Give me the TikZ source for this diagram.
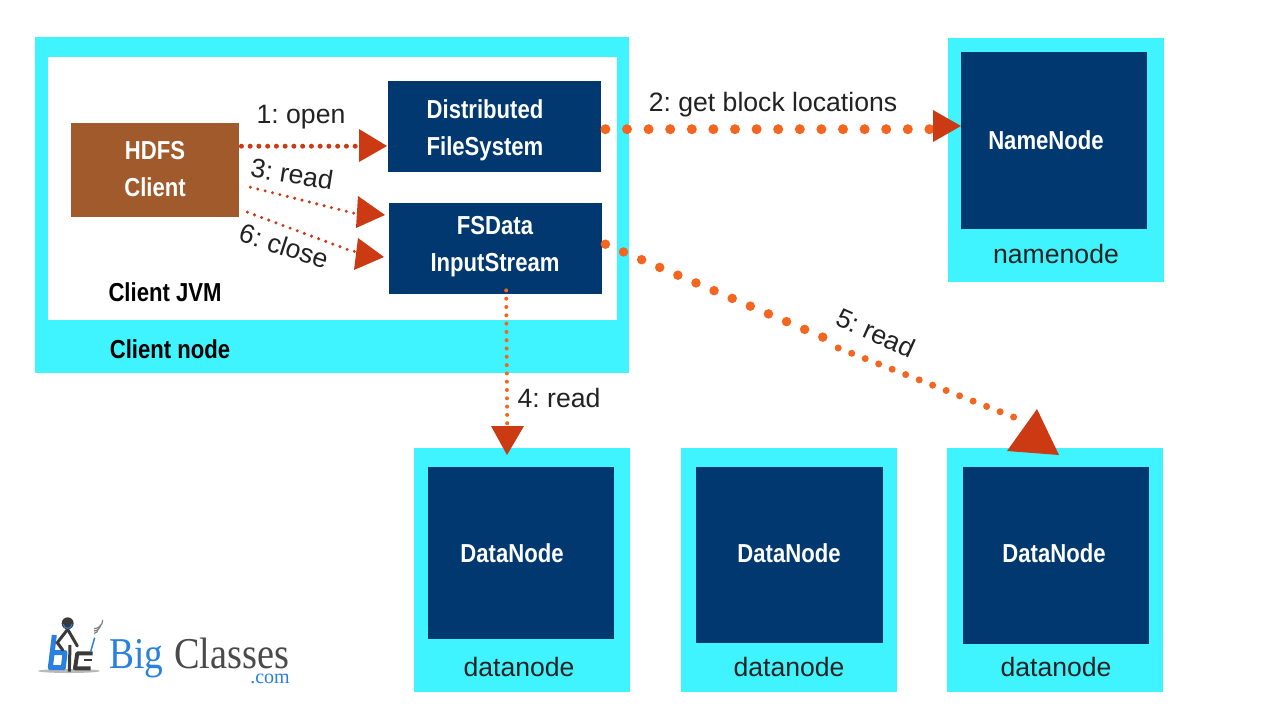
\documentclass[tikz,border=0pt]{standalone}
\usepackage{fontspec}
\setmainfont{Liberation Sans}
\newfontfamily\condbold[FakeStretch=0.85]{Liberation Sans Bold}
\newfontfamily\logofont{Liberation Serif}
\frenchspacing
\definecolor{cyanbg}{HTML}{40F4FF}
\definecolor{navy}{HTML}{00386F}
\definecolor{brownbox}{HTML}{A05A2C}
\definecolor{tipred}{HTML}{CB3A13}
\definecolor{dotorange}{HTML}{F4661F}
\definecolor{labelink}{HTML}{222222}
\definecolor{logoblue}{HTML}{2A80E0}
\definecolor{logodark}{HTML}{3A3A3A}
\definecolor{logogray}{HTML}{4A4A4A}
\tikzset{
  box/.style={fill=#1,draw=none,inner sep=0pt,anchor=north west},
  strong/.style={font=\condbold\fontsize{26}{37}\selectfont,text=#1,align=center,inner sep=0pt},
  strong/.default=white,
  lab/.style={font=\fontsize{26.6}{30}\selectfont,text=labelink,inner sep=0pt},
  tipshape/.style={fill=tipred,draw=none},
  dots/.style n args={3}{draw=#1,line width=#2pt,line cap=round,dash pattern=on 0pt off #3pt},
}
\begin{document}
\begin{tikzpicture}[x=1pt,y=-1pt]
\useasboundingbox (0,0) rectangle (1280,720);
\fill[white] (0,0) rectangle (1280,720);
% client node
\node[box=cyanbg,minimum width=594pt,minimum height=336pt] (clientnode) at (35,37) {};
\node[box=white,minimum width=569pt,minimum height=263pt] (clientjvm) at (48,57) {};
\node[box=brownbox,minimum width=168pt,minimum height=94pt] (hdfs) at (71,123) {};
\node[strong] (hdfstext) at (155,169.5) {HDFS\\Client};
\node[box=navy,minimum width=213pt,minimum height=91pt] (dfs) at (388,81) {};
\node[strong] (dfstext) at (485,130.5) {Distributed\\FileSystem};
\node[box=navy,minimum width=213pt,minimum height=91pt] (fsd) at (389,203) {};
\node[strong] (fsdtext) at (495,246.5) {FSData\\InputStream};
\node[strong=black] (jvmlabel) at (165,292) {Client JVM};
\node[strong=black] (nodelabel) at (170,349) {Client node};
% namenode
\node[box=cyanbg,minimum width=216pt,minimum height=244pt] (nnout) at (948,38) {};
\node[box=navy,minimum width=186pt,minimum height=177pt] (nn) at (961,52) {};
\node[strong] (nntext) at (1046,140) {NameNode};
\node[lab] (nnlabel) at (1056,254) {namenode};
% datanodes
\node[box=cyanbg,minimum width=216pt,minimum height=244pt] (dnoutA) at (414,448) {};
\node[box=navy,minimum width=186pt,minimum height=172pt] (dnA) at (428,467) {};
\node[strong] (dntextA) at (512,553) {DataNode};
\node[lab] (dnlabelA) at (519,667) {datanode};
\node[box=cyanbg,minimum width=216pt,minimum height=244pt] (dnoutB) at (680.5,448) {};
\node[box=navy,minimum width=187pt,minimum height=176pt] (dnB) at (696,467) {};
\node[strong] (dntextB) at (789,553) {DataNode};
\node[lab] (dnlabelB) at (789,667) {datanode};
\node[box=cyanbg,minimum width=216pt,minimum height=244pt] (dnoutC) at (947,448) {};
\node[box=navy,minimum width=186pt,minimum height=177pt] (dnC) at (963,467) {};
\node[strong] (dntextC) at (1054,553) {DataNode};
\node[lab] (dnlabelC) at (1056,667) {datanode};
% connectors
\draw[dots={tipred}{5}{8.75}] ([shift={(2,-24)}]hdfs.east) -- ([shift={(-8,19.5)}]dfs.west);
\draw[dots={tipred}{3.4}{7.6}] ([shift={(11,17)}]hdfs.east) -- ([shift={(-31,-34.5)}]fsd.west) -- ([shift={(-14,-34)}]fsd.west);
\draw[dots={tipred}{3.4}{7.6}] ([shift={(8,42)}]hdfs.east) -- ([shift={(-37,2.5)}]fsd.west) -- ([shift={(-14,4.5)}]fsd.west);
\draw[dots={dotorange}{10}{21.6}] ([shift={(4,2.5)}]dfs.east) -- ([shift={(-28,-11.5)}]nn.west);
\draw[dots={dotorange}{4}{8.3}] ([shift={(10.5,-4)}]fsd.south) -- ([shift={(-15,-23)}]dnoutA.north);
\draw[dots={dotorange}{9.5}{19.7}] ([shift={(3,-4.5)}]fsd.east) -- ([shift={(-221,-106)}]dnoutC.north);
\draw[dots={dotorange}{7}{14.5}] ([shift={(-217,-100)}]dnoutC.north) -- ([shift={(-29,-26)}]dnoutC.north);
% arrowheads
\fill[tipshape] (359,129) -- (387,146) -- (359,162) -- cycle;
\fill[tipshape] (358,196) -- (385,215) -- (356,228) -- cycle;
\fill[tipshape] (358,238) -- (384,257) -- (354,270) -- cycle;
\fill[tipshape] (933,110) -- (961,126) -- (933,142) -- cycle;
\fill[tipshape] (491,426) -- (524,426) -- (507,455) -- cycle;
\fill[tipshape] (1037,409) -- (1007,451) -- (1059,455) -- cycle;
% connector labels
\node[lab] (l1) at (301,117) {1: open};
\node[lab,rotate=-9] (l3) at (292,174) {3: read};
\node[lab,rotate=-18] (l6) at (284,246) {6: close};
\node[lab] (l2) at (773,105) {2: get block locations};
\node[lab] (l4) at (559,398) {4: read};
\node[lab,rotate=-24] (l5) at (876,333) {5: read};
% logo
\begin{scope}[shift={(20,600)},x=0.33333pt,y=-0.33333pt]
\fill[gray!55] (147,213) ellipse [x radius=93,y radius=6];
\draw[logoblue,line width=5pt,line join=round] (103,105) -- (91,203) -- (130,203) -- (135,158) -- (98,158);
\draw[logodark,line width=4pt,line join=round] (218,160) -- (172,160) -- (165,205) -- (212,205);
\draw[logodark,line width=2pt] (192,180) -- (215,180);
\draw[logodark,line width=3pt,line cap=round] (143,88) -- (172,138);
\draw[logodark,line width=3pt,line cap=round] (143,88) -- (112,128) -- (128,150);
\draw[logodark,line width=3pt] (150,135) -- (148,215);
\draw[logoblue,line width=1.5pt] (224,113) -- (212,155);
\fill[logodark] (143,70) circle [radius=18];
\draw[logoblue,line width=1pt] (130,72) arc[start angle=180,end angle=360,x radius=13,y radius=-13];
\draw[gray,line width=1.2pt] (222,100) arc[start angle=90,end angle=0,radius=12];
\draw[gray,line width=1.2pt] (222,93) arc[start angle=90,end angle=0,radius=19];
\draw[gray,line width=1.2pt] (222,86) arc[start angle=90,end angle=0,radius=26];
\end{scope}
\node[font=\logofont\fontsize{44}{44}\selectfont,text=logoblue,xscale=.85,inner sep=0pt,anchor=base west] (big) at (109,668) {Big};
\node[font=\logofont\fontsize{44}{44}\selectfont,text=logogray,xscale=.87,inner sep=0pt,anchor=base west] (classes) at (174,668) {Classes};
\node[font=\logofont\fontsize{20}{20}\selectfont,text=logoblue,inner sep=0pt,anchor=base east] (com) at (290,683) {.com};
\end{tikzpicture}
\end{document}
